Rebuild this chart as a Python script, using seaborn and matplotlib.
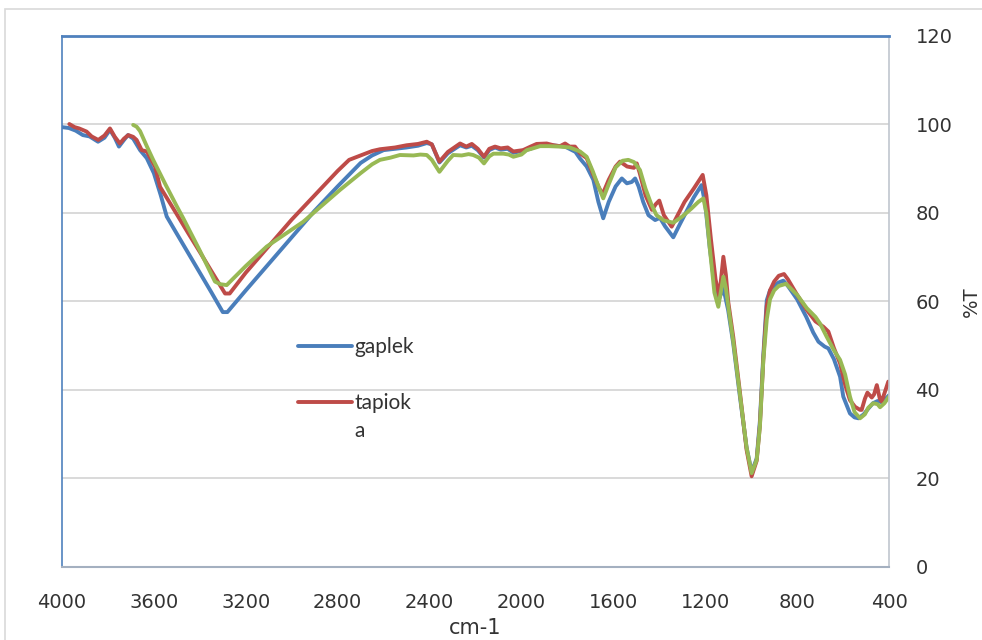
import numpy as np
import pandas as pd
import matplotlib
matplotlib.use('Agg')
import matplotlib.pyplot as plt
import seaborn as sns
from matplotlib.patches import Rectangle

# gaplek (blue)
wn_gaplek = [4000, 3970, 3940, 3909, 3880, 3843, 3815, 3791, 3770, 3752, 3730, 3713, 3690, 3660,
             3631, 3600, 3570, 3544, 3500, 3450, 3400, 3350, 3310, 3300, 3280, 3200, 3100, 3000,
             2900, 2800, 2700, 2650, 2600, 2500, 2450, 2412, 2390, 2357, 2320, 2267, 2240, 2216,
             2190, 2163, 2140, 2115, 2090, 2060, 2035, 2000, 1960, 1934, 1890, 1850, 1810, 1780,
             1765, 1745, 1716, 1687, 1665, 1644, 1620, 1590, 1563, 1541, 1520, 1505, 1490, 1470,
             1447, 1418, 1397, 1375, 1339, 1310, 1280, 1250, 1216, 1200, 1180, 1160, 1139, 1121,
             1100, 1078, 1049, 1020, 998, 976, 962, 947, 932, 918, 900, 880, 860, 840, 800, 760,
             730, 707, 680, 664, 640, 613, 599, 570, 550, 533, 510, 490, 470, 450, 430, 415, 400]
t_gaplek = [99.4, 99.2, 98.6, 97.6, 97.3, 96.1, 97.0, 98.8, 97.0, 95.0, 96.5, 97.6, 96.8, 94.2,
            92.4, 89.0, 84.0, 79.2, 75.3, 70.9, 66.5, 62.1, 58.5, 57.6, 57.6, 62.5, 68.5, 74.5,
            80.5, 86.0, 91.3, 93.0, 94.2, 94.8, 95.2, 95.8, 95.5, 91.4, 93.5, 95.3, 94.8, 95.2,
            94.2, 92.5, 94.2, 94.8, 94.3, 94.5, 93.6, 94.0, 94.5, 95.2, 95.4, 95.2, 95.0, 94.2,
            93.8, 92.3, 90.5, 87.5, 82.5, 78.8, 82.5, 86.0, 87.8, 86.7, 87.0, 87.8, 86.0, 82.5,
            79.5, 78.4, 78.9, 77.0, 74.5, 77.5, 80.5, 83.5, 86.3, 82.0, 72.0, 64.0, 60.7, 63.0,
            58.0, 50.5, 38.5, 27.0, 21.5, 24.5, 33.0, 48.0, 60.3, 62.5, 63.5, 64.3, 64.7, 63.5,
            60.5, 56.5, 53.0, 50.9, 49.8, 49.4, 47.0, 43.0, 38.5, 34.7, 33.8, 33.6, 34.5, 35.8,
            37.0, 37.5, 37.2, 38.0, 38.8]

# tapioka (red)
wn_tapioka = [3968, 3945, 3925, 3893, 3871, 3842, 3815, 3791, 3770, 3748, 3730, 3711, 3690, 3675,
              3653, 3631, 3595, 3573, 3540, 3500, 3450, 3400, 3350, 3310, 3290, 3270, 3200, 3100,
              3000, 2900, 2800, 2750, 2700, 2650, 2616, 2550, 2500, 2450, 2412, 2390, 2357, 2320,
              2267, 2240, 2216, 2190, 2163, 2140, 2115, 2090, 2060, 2035, 1993, 1960, 1934, 1890,
              1860, 1832, 1810, 1790, 1767, 1745, 1716, 1690, 1665, 1647, 1620, 1590, 1571, 1540,
              1510, 1498, 1485, 1460, 1432, 1415, 1400, 1380, 1346, 1320, 1290, 1250, 1211, 1195,
              1175, 1155, 1139, 1121, 1110, 1100, 1078, 1049, 1020, 998, 976, 962, 947, 932, 918,
              900, 880, 857, 840, 800, 758, 720, 686, 664, 640, 613, 590, 570, 548, 526, 519, 505,
              494, 475, 465, 453, 440, 432, 415, 403]
t_tapioka = [100.1, 99.4, 99.1, 98.4, 97.3, 96.5, 97.5, 99.1, 97.2, 95.7, 96.8, 97.6, 97.2, 96.5,
             94.2, 93.9, 90.5, 85.9, 83.1, 79.7, 75.4, 71.2, 66.9, 63.5, 61.8, 61.8, 66.5, 72.5,
             78.5, 84.0, 89.5, 92.0, 93.0, 94.0, 94.4, 94.8, 95.3, 95.6, 96.1, 95.5, 91.6, 93.8,
             95.7, 95.0, 95.6, 94.5, 92.7, 94.5, 95.0, 94.6, 94.8, 93.9, 94.2, 95.0, 95.6, 95.7,
             95.3, 95.1, 95.7, 95.0, 95.0, 93.5, 92.4, 89.0, 86.0, 84.2, 87.5, 90.5, 91.6, 90.5,
             90.2, 91.2, 89.0, 84.0, 80.7, 82.0, 82.8, 79.5, 76.9, 79.5, 82.5, 85.5, 88.6, 84.0,
             74.0, 65.0, 61.1, 70.1, 66.0, 60.0, 52.0, 39.5, 26.5, 20.5, 24.0, 32.0, 47.0, 59.0,
             62.5, 64.5, 65.8, 66.2, 65.0, 61.5, 58.1, 55.5, 54.3, 53.2, 49.5, 46.0, 41.0, 37.7,
             36.2, 35.5, 35.5, 38.0, 39.4, 38.3, 39.0, 41.1, 38.0, 37.4, 40.0, 41.9]

# third sample (green, not named in legend)
wn_green = [3690, 3675, 3660, 3630, 3603, 3550, 3500, 3472, 3400, 3334, 3310, 3283, 3200, 3109,
            2950, 2790, 2700, 2650, 2616, 2570, 2529, 2470, 2440, 2412, 2390, 2357, 2320, 2297,
            2260, 2230, 2210, 2185, 2163, 2140, 2122, 2079, 2055, 2035, 2000, 1977, 1950, 1919,
            1880, 1832, 1790, 1765, 1745, 1716, 1690, 1665, 1644, 1620, 1590, 1560, 1535, 1510,
            1484, 1460, 1435, 1412, 1380, 1339, 1300, 1260, 1230, 1208, 1195, 1180, 1160, 1143,
            1121, 1110, 1100, 1078, 1049, 1020, 998, 976, 962, 947, 932, 918, 900, 880, 848, 800,
            758, 720, 700, 671, 640, 613, 591, 570, 550, 526, 505, 490, 469, 450, 439, 420, 400]
t_green = [99.9, 99.5, 98.5, 95.0, 92.0, 86.5, 81.5, 78.8, 71.5, 64.5, 63.9, 63.7, 68.0, 72.4,
           78.0, 85.2, 89.0, 91.0, 92.0, 92.5, 93.1, 93.0, 93.2, 93.1, 92.0, 89.3, 91.8, 93.1,
           93.0, 93.3, 93.1, 92.5, 91.2, 92.8, 93.4, 93.4, 93.2, 92.7, 93.2, 94.2, 94.6, 95.1,
           95.1, 95.0, 94.8, 94.3, 93.9, 92.7, 89.5, 86.0, 83.3, 86.5, 90.3, 91.8, 92.0, 91.5,
           89.7, 85.5, 82.0, 79.5, 78.3, 77.8, 79.2, 81.0, 82.5, 83.3, 80.0, 72.0, 62.0, 58.8,
           65.6, 63.0, 59.0, 51.0, 39.0, 27.0, 21.2, 24.2, 31.7, 46.8, 56.0, 60.5, 62.5, 63.5,
           64.0, 61.5, 58.5, 56.5, 55.0, 52.0, 49.0, 46.8, 43.5, 38.5, 35.0, 33.6, 34.5, 36.0,
           37.0, 36.8, 36.1, 37.0, 38.5]

# legend text as in the picture (word "tapioka" wrapped)
labels = ['gaplek', 'tapiok']
label_wrap = 'a'
colors = ['#4a7ebb', '#be4b48', '#98b954']
x_ticks = [4000, 3600, 3200, 2800, 2400, 2000, 1600, 1200, 800, 400]
y_ticks = [0, 20, 40, 60, 80, 100, 120]

sns.set_theme(style='white')
plt.rcParams['font.family'] = ['DejaVu Sans']

fig = plt.figure(figsize=(9.82, 6.4), dpi=100)
ax = fig.add_axes([0.0631, 0.1141, 0.8422, 0.8297])

fig.patches.append(Rectangle((5 / 982, -0.05), 1.1, (640 - 9) / 640 + 0.05,
                             transform=fig.transFigure, fill=False,
                             edgecolor='#d9d9d9', lw=1.2))

for y in y_ticks[1:]:
    ax.axhline(y, color='#d9d9d9', lw=1.4, zorder=0)

series = [(wn_gaplek, t_gaplek), (wn_tapioka, t_tapioka), (wn_green, t_green)]
for (wn, t), c in zip(series, colors):
    df = pd.DataFrame({'wn': wn, 't': t})
    sns.lineplot(data=df, x='wn', y='t', ax=ax, color=c, lw=2.8, sort=False,
                 legend=False, solid_joinstyle='round', solid_capstyle='round')

ax.set_xlim(4000, 400)
ax.set_ylim(0, 120)
ax.set_xticks(x_ticks)
ax.set_yticks(y_ticks)
ax.yaxis.tick_right()
ax.yaxis.set_label_position('right')
ax.tick_params(axis='both', length=0, labelsize=14, colors='#333333')
ax.tick_params(axis='x', pad=19)
ax.tick_params(axis='y', pad=19)
ax.set_xlabel('cm-1', fontsize=15, color='#333333', labelpad=4)
ax.set_ylabel('%T', fontsize=14, color='#333333', labelpad=7, rotation=90)

ax.spines['top'].set_color('#4f81bd')
ax.spines['top'].set_linewidth(2)
ax.spines['left'].set_color('#4f81bd')
ax.spines['left'].set_linewidth(1.2)
ax.spines['right'].set_color('#c0c6ce')
ax.spines['right'].set_linewidth(1.2)
ax.spines['bottom'].set_color('#a4b0c0')
ax.spines['bottom'].set_linewidth(1.5)

leg = ax.legend(handles=ax.lines[-3:-1], labels=labels, loc='upper left',
                bbox_to_anchor=((298 - 62) / 827, (567 - 337) / 531),
                frameon=False, handlelength=2.6, handletextpad=0.12,
                labelspacing=1.72, borderpad=0, borderaxespad=0,
                prop={'family': ['Lato', 'DejaVu Sans'], 'size': 15})
for txt in leg.get_texts():
    txt.set_color('#333333')
# second line of the wrapped label, drawn after the legend so it can follow it
ax.annotate(label_wrap, xy=(0, 0), xycoords=leg.get_texts()[1],
            xytext=(0, -8), textcoords='offset pixels', va='top', ha='left',
            fontsize=15, family=['Lato', 'DejaVu Sans'], color='#333333',
            zorder=10)

fig.savefig('out.png', dpi=100)
